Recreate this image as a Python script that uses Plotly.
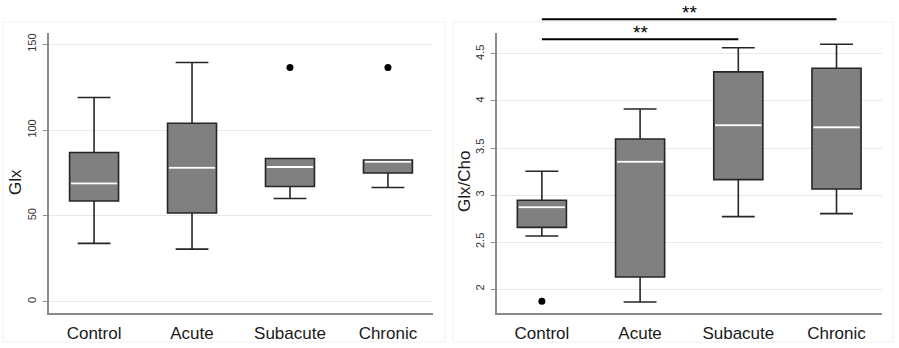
import plotly.graph_objects as go

categories = ["Control", "Acute", "Subacute", "Chronic"]

# Glx (left panel)
glx_low = [34.0, 30.6, 60.1, 66.5]
glx_q1 = [58.7, 51.7, 67.1, 75.0]
glx_median = [68.8, 78.1, 78.5, 81.6]
glx_q3 = [86.9, 104.0, 83.4, 82.6]
glx_high = [119.0, 139.4, 83.4, 82.6]
glx_outlier_cat = ["Subacute", "Chronic"]
glx_outlier_val = [136.5, 136.5]
glx_ticks = [0, 50, 100, 150]

# Glx/Cho (right panel)
ratio_low = [2.564, 1.862, 2.770, 2.802]
ratio_q1 = [2.656, 2.128, 3.164, 3.064]
ratio_median = [2.869, 3.355, 3.741, 3.720]
ratio_q3 = [2.944, 3.596, 4.310, 4.348]
ratio_high = [3.252, 3.915, 4.567, 4.604]
ratio_outlier_cat = ["Control"]
ratio_outlier_val = [1.869]
ratio_ticks = [2, 2.5, 3, 3.5, 4, 4.5]
ratio_ticktext = ["2", "2.5", "3", "3.5", "4", "4.5"]

# significance comparisons (from, to, label)
sig_pairs = [("Control", "Chronic", "**"), ("Control", "Subacute", "**")]

W, H = 899, 348
xpos = list(range(len(categories)))
BOX_W = 0.5

BOX_FILL = "#808080"
BOX_LINE = "#262626"
AXIS_COL = "#8a8a8a"
GRID_COL = "#e9e9e9"
FONT = "Liberation Sans"

fig = go.Figure()


def add_panel(low, q1, med, q3, high, out_cat, out_val, xa, ya):
    fig.add_trace(go.Box(
        x=xpos, q1=q1, median=med, q3=q3, lowerfence=low, upperfence=high,
        width=BOX_W, whiskerwidth=0.67, fillcolor=BOX_FILL,
        line=dict(color=BOX_LINE, width=1.6), boxpoints=False,
        xaxis=xa, yaxis=ya, showlegend=False, hoverinfo="skip"))
    # white median lines
    mx, my = [], []
    for i, m in zip(xpos, med):
        mx += [i - BOX_W / 2 + 0.012, i + BOX_W / 2 - 0.012, None]
        my += [m, m, None]
    fig.add_trace(go.Scatter(x=mx, y=my, mode="lines",
                             line=dict(color="white", width=2),
                             xaxis=xa, yaxis=ya, showlegend=False, hoverinfo="skip"))
    fig.add_trace(go.Scatter(x=[categories.index(c) for c in out_cat], y=out_val,
                             mode="markers", marker=dict(color="black", size=7),
                             xaxis=xa, yaxis=ya, showlegend=False, hoverinfo="skip"))


add_panel(glx_low, glx_q1, glx_median, glx_q3, glx_high,
          glx_outlier_cat, glx_outlier_val, "x", "y")
add_panel(ratio_low, ratio_q1, ratio_median, ratio_q3, ratio_high,
          ratio_outlier_cat, ratio_outlier_val, "x2", "y2")

ydom = [35 / H, 1 - 33.3 / H]

xaxis_common = dict(
    range=[-0.46, 3.46], tickvals=xpos, ticktext=categories, ticks="",
    showline=True, linecolor=AXIS_COL, linewidth=1.5, showgrid=False,
    zeroline=False, tickfont=dict(family=FONT, size=17, color="#1a1a1a"),
    ticklabelstandoff=4, automargin=False, fixedrange=True)
yaxis_common = dict(
    showline=True, linecolor=AXIS_COL, linewidth=1.5, ticks="outside",
    ticklen=4, tickcolor=AXIS_COL, tickangle=-90, showgrid=True,
    gridcolor=GRID_COL, gridwidth=1, zeroline=False,
    tickfont=dict(family=FONT, size=11, color="#333333"),
    ticklabelstandoff=3, automargin=False, fixedrange=True, domain=ydom)

fig.update_layout(
    width=W, height=H, margin=dict(l=0, r=0, t=0, b=0),
    template="none", paper_bgcolor="white", plot_bgcolor="white",
    boxmode="overlay",
    xaxis=dict(xaxis_common, domain=[49 / W, 433 / W], anchor="y"),
    yaxis=dict(yaxis_common, range=[-6.6, 156.4], tickvals=glx_ticks, anchor="x"),
    xaxis2=dict(xaxis_common, domain=[496.7 / W, 881.7 / W], anchor="y2"),
    yaxis2=dict(yaxis_common, range=[1.745, 4.72], tickvals=ratio_ticks,
                ticktext=ratio_ticktext, anchor="x2"),
)

# faint panel frames
for x0, x1 in [(3 / W, 445 / W), (453 / W, 893 / W)]:
    fig.add_shape(type="rect", xref="paper", yref="paper", x0=x0, x1=x1,
                  y0=6 / H, y1=1 - 22 / H, line=dict(color="#f0f0f0", width=1),
                  layer="below")

# axis titles
for xp, txt in [(15 / W, "Glx"), (464 / W, "Glx/Cho")]:
    fig.add_annotation(text=txt, xref="paper", yref="paper", x=xp, y=1 - 182 / H,
                       xanchor="center", yanchor="middle",
                       textangle=-90, showarrow=False,
                       font=dict(family=FONT, size=17, color="#1a1a1a"))

# significance bars
for (a, b, lab), ybar in zip(sig_pairs, [1 - 19.3 / H, 1 - 39.3 / H]):
    i0, i1 = categories.index(a), categories.index(b)
    fig.add_shape(type="line", xref="x2", yref="paper", x0=i0, x1=i1,
                  y0=ybar, y1=ybar, line=dict(color="black", width=2))
    fig.add_annotation(text=lab, xref="x2", yref="paper", x=(i0 + i1) / 2,
                       y=ybar, yanchor="bottom", yshift=-6, showarrow=False,
                       font=dict(family=FONT, size=19, color="black"))

fig.write_html("out.html", config={"displayModeBar": False},
               post_script="document.body.style.margin='0';"
                           "document.body.style.overflow='hidden';")
